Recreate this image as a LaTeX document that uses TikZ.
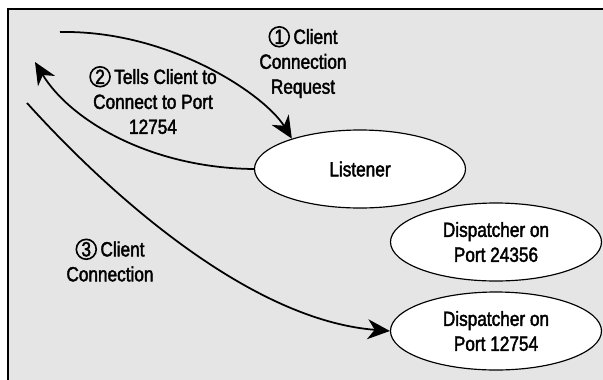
\documentclass[tikz,border=0pt]{standalone}
\usepackage{fontspec}
\setmainfont[FakeStretch=0.84, FakeBold=2]{Liberation Sans}
\usetikzlibrary{arrows.meta,shapes.geometric}

\newcommand{\cnum}[1]{\tikz[baseline=(cn.base)]\node[circle, draw, line width=1.4pt, inner sep=0pt, minimum size=17pt] (cn) {#1};\,}

\begin{document}
\begin{tikzpicture}[x=0.03cm, y=-0.03cm,
  every node/.style={font=\fontsize{17.5}{21.3}\selectfont},
  proc/.style={ellipse, draw, fill=white, line width=1pt, align=center,
    minimum width=6.33cm, minimum height=2.34cm, inner sep=0pt},
  conn/.style={line width=1.5pt, -{Stealth[length=19pt, width=17pt, inset=6pt]}},
  note/.style={align=center}]

\useasboundingbox (0,0) rectangle (603,379);
\clip (0,0) rectangle (603,379);
\draw[fill=black!10, line width=1.6pt] (8,9) rectangle (640,420);

\node[proc] (lis) at (360,169) {Listener};
\node[proc] (disp1) at (496,242) {Dispatcher on\\Port 24356};
\node[proc] (disp2) at (496,331) {Dispatcher on\\Port 12754};

\coordinate (cli1) at (60,32);
\coordinate (cli2) at (35,62);
\coordinate (cli3) at (27,103);

\draw[conn] (cli1) .. controls (170,30) and (265,95) .. (lis.156);
\draw[conn] (lis.west) .. controls (150,168) and (70,120) .. (cli2);
\draw[conn] (cli3) .. controls (110,195) and (250,320) .. (disp2.west);

\node[note] (req) at (303,62) {\cnum{1}Client\\Connection\\Request};
\node[note] (tell) at (153,100) {\cnum{2}Tells Client to\\Connect to Port\\12754};
\node[note] (conn3) at (110,260) {\cnum{3}Client\\Connection};

\end{tikzpicture}
\end{document}
